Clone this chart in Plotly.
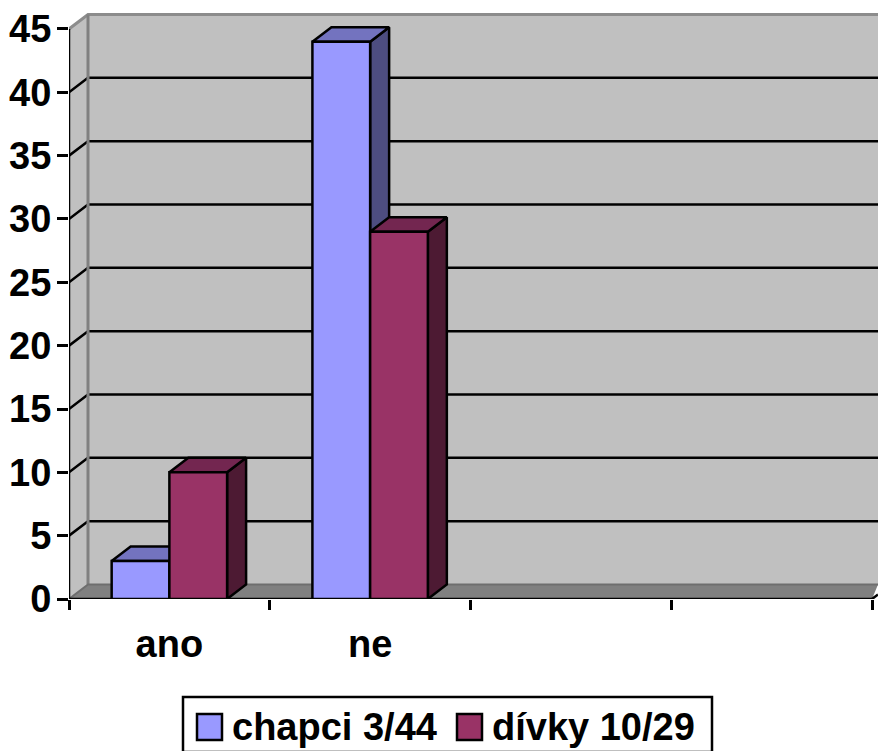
import plotly.graph_objects as go

categories = ["ano", "ne"]
category_slots = [0.5, 1.5]
chapci = [3, 44]
divky = [10, 29]
series_names = ["chapci 3/44", "dívky 10/29"]
y_ticks = [0, 5, 10, 15, 20, 25, 30, 35, 40, 45]
x_boundaries = [0, 1, 2, 3, 4]

FONT = "Liberation Sans"
FS = 38
LW = 2.5
BAR_W = 0.2875
DX = 19 / 200.75
DY = 14.5 / 12.667
XMAX = 4
XR = [0, 809 / 200.75]
YR = [0, 589 / 12.667]
YTOP = 45
WALL = "#C0C0C0"
FLOOR = "#808080"
C1 = ("#9999FF", "#4D4D80", "#7373BF")
C2 = ("#993366", "#4D1A33", "#732650")

fig = go.Figure()


def poly(xs, ys, fill, line="black", w=LW):
    fig.add_trace(go.Scatter(
        x=xs, y=ys, mode="lines", fill="toself", fillcolor=fill,
        line=dict(color=line, width=w), showlegend=False, hoverinfo="skip",
        cliponaxis=False))


def path(xs, ys, color="black", w=LW):
    fig.add_trace(go.Scatter(
        x=xs, y=ys, mode="lines", line=dict(color=color, width=w),
        showlegend=False, hoverinfo="skip", cliponaxis=False))


far = XR[1]
# walls and floor
poly([DX, far, far, DX, DX], [DY, DY, YTOP + DY, YTOP + DY, DY], WALL, WALL, 0)
poly([0, DX, DX, 0, 0], [0, DY, YTOP + DY, YTOP, 0], WALL, WALL, 0)
poly([0, DX, far, XMAX, 0], [0, DY, DY, 0, 0], FLOOR, FLOOR, 0)

# gridlines on the walls
for v in y_ticks[1:-1]:
    path([0, DX, far], [v, v + DY, v + DY])
path([0, DX, far], [YTOP, YTOP + DY, YTOP + DY], "#8C8C8C", 3)
path([DX, DX], [DY, YTOP + DY], "#808080", 3)
path([0, DX, far], [0, DY, DY], "#6E6E6E", 2)
path([0, 0], [0, YTOP])
path([0, XMAX], [0, 0])
path([XMAX, far], [0, DY * (far - XMAX) / DX])

# depth faces of the bars, back to front
for slot, v1, v2 in zip(category_slots, chapci, divky):
    for offset, v, col in ((-BAR_W, v1, C1), (0, v2, C2)):
        x0 = slot + offset
        x1 = x0 + BAR_W
        poly([x1, x1 + DX, x1 + DX, x1, x1], [0, DY, v + DY, v, 0], col[1])
        poly([x0, x0 + DX, x1 + DX, x1, x0], [v, v + DY, v + DY, v, v], col[2])

# front faces
for name, vals, col in ((series_names[0], chapci, C1), (series_names[1], divky, C2)):
    fig.add_trace(go.Bar(
        x=category_slots, y=vals, name=name, xaxis="x2", yaxis="y2",
        marker=dict(color=col[0], line=dict(color="black", width=LW)),
        cliponaxis=False, showlegend=False))

axis_font = dict(family=FONT, size=FS, color="black", weight="bold")
fig.update_layout(
    width=878, height=751,
    margin=dict(l=69, r=0, t=10, b=152, pad=0),
    paper_bgcolor="white", plot_bgcolor="white",
    barmode="group", bargap=1 - 2 * BAR_W, bargroupgap=0,
    showlegend=False,
    xaxis=dict(
        range=XR, showgrid=False, zeroline=False, showline=False,
        tickmode="array", tickvals=category_slots, ticktext=categories,
        ticks="outside", ticklen=11, tickcolor="rgba(0,0,0,0)",
        tickfont=axis_font,
        minor=dict(tickmode="array", tickvals=x_boundaries, ticks="outside",
                   ticklen=10, tickwidth=LW, tickcolor="black"),
    ),
    yaxis=dict(
        range=YR, showgrid=False, zeroline=False, showline=False,
        tickmode="array", tickvals=y_ticks, ticks="outside", ticklen=11,
        tickwidth=LW, tickcolor="black", tickfont=axis_font,
        ticklabelstandoff=-2,
    ),
    xaxis2=dict(overlaying="x", matches="x", visible=False, range=XR),
    yaxis2=dict(overlaying="y", matches="y", visible=False, range=YR),
)


# paper coords are relative to the plot area
def rel_x(x):
    return (x - 69) / 809


def rel_y(y):
    return (599 - y) / 589


def legend_rect(x0, y0, x1, y1, fill):
    fig.add_shape(type="rect", xref="paper", yref="paper", layer="above",
                  x0=rel_x(x0), x1=rel_x(x1), y0=rel_y(y0), y1=rel_y(y1),
                  fillcolor=fill, line=dict(color="black", width=LW))


legend_rect(183, 697, 712, 752, "white")
legend_rect(197, 714, 222, 740, C1[0])
legend_rect(457, 714, 482, 740, C2[0])
for text, x in ((series_names[0], 231), (series_names[1], 491)):
    fig.add_annotation(
        text=text, xref="paper", yref="paper", x=rel_x(x), y=rel_y(727),
        xanchor="left", yanchor="middle", showarrow=False, borderpad=0,
        font=axis_font)

fig.write_html("out.html", config={"displayModeBar": False},
               post_script="document.body.style.margin='0';")
